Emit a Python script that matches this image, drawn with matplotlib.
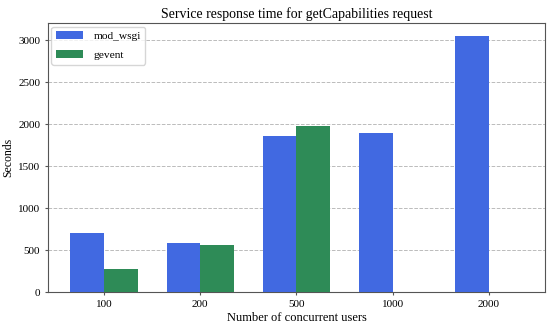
import matplotlib

matplotlib.use("Agg")
import matplotlib.pyplot as plt
import numpy as np

usuarios = ["100", "200", "500", "1000", "2000"]
mod_wsgi = [703, 587, 1858, 1894, 3050]
gevent = [278, 557, 1973, 0, 0]

plt.rcParams["font.family"] = ["Liberation Serif", "DejaVu Serif"]

x = np.arange(len(usuarios))
largura = 0.35

fig = plt.figure(figsize=(5.5, 3.26), dpi=100)
ax = fig.add_axes([0.087, 0.104, 0.904, 0.825])
ax.bar(x, mod_wsgi, -largura, align="edge", color="royalblue", label="mod_wsgi", zorder=3)
ax.bar(x, gevent, largura, align="edge", color="seagreen", label="gevent", zorder=3)

ax.set_xticks(x)
ax.set_xticklabels(usuarios)
ax.tick_params(labelsize=8, length=2.5, pad=3, color="#555555")
for lado in ax.spines.values():
    lado.set_color("#555555")
ax.set_xlabel("Number of concurrent users", fontsize=9, labelpad=2)
ax.set_ylabel("Seconds", fontsize=8.5, labelpad=3)
ax.set_title("Service response time for getCapabilities request", fontsize=10, pad=4)
ax.yaxis.grid(True, ls="--", color="#bbbbbb", lw=0.7, zorder=0)
ax.legend(loc="upper left", fontsize=8.2, labelspacing=0.8, handlelength=2.4,
          handletextpad=0.9, borderaxespad=0.3)

fig.savefig("out.png", dpi=100)
